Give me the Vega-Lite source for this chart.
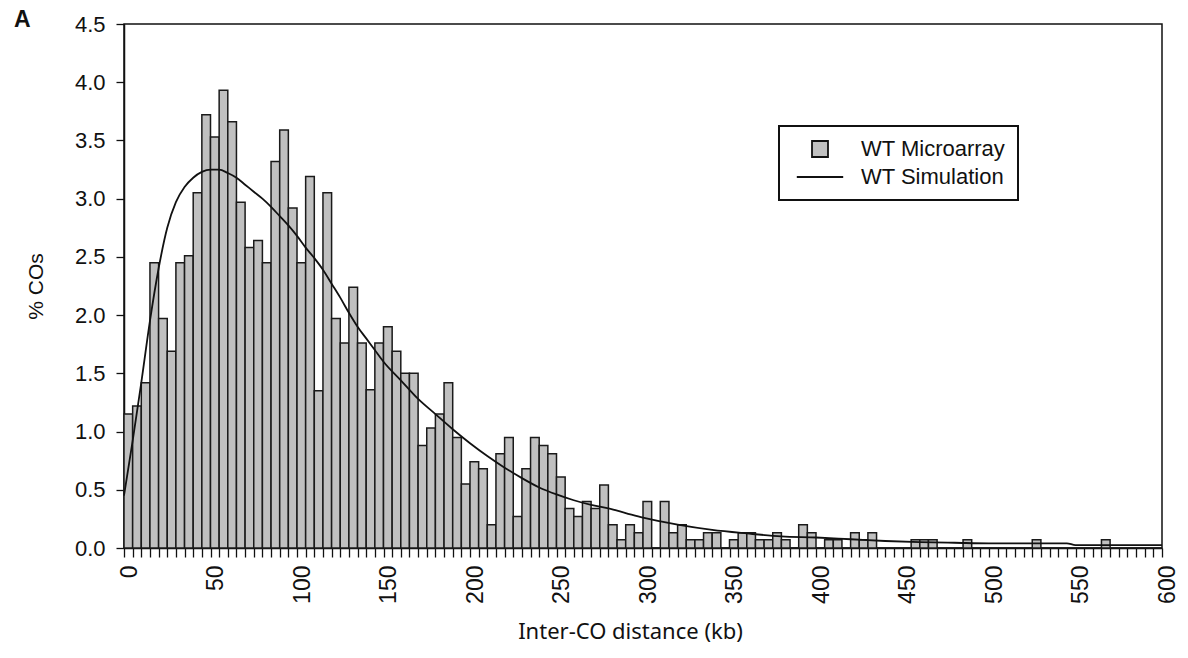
{
  "$schema": "https://vega.github.io/schema/vega-lite/v6.json",
  "width": 1038,
  "height": 524,
  "autosize": {"type": "none"},
  "padding": {"left": 124, "top": 24, "right": 26, "bottom": 110},
  "background": "white",
  "title": {"text": "A", "anchor": "start", "frame": "group", "orient": "top", "baseline": "alphabetic", "offset": 0, "dx": -110, "dy": 37, "font": "Liberation Sans", "fontSize": 23, "fontWeight": "bold", "color": "#111"},
  "config": {
    "view": {"stroke": "#111", "strokeWidth": 1.5},
    "axis": {"grid": false, "domainColor": "#111", "domainWidth": 1.5, "tickColor": "#111", "tickWidth": 1.3, "labelFont": "Liberation Sans", "labelColor": "#111", "titleFontWeight": "normal", "titleColor": "#111"},
    "legend": {"strokeWidth": 2, "symbolStrokeWidth": 1.8}
  },
  "datasets": {
    "bars": [
      {"start": 0, "end": 5, "pct": 1.15}, {"start": 5, "end": 10, "pct": 1.22}, {"start": 10, "end": 15, "pct": 1.42}, {"start": 15, "end": 20, "pct": 2.45},
      {"start": 20, "end": 25, "pct": 1.97}, {"start": 25, "end": 30, "pct": 1.69}, {"start": 30, "end": 35, "pct": 2.45}, {"start": 35, "end": 40, "pct": 2.51},
      {"start": 40, "end": 45, "pct": 3.05}, {"start": 45, "end": 50, "pct": 3.72}, {"start": 50, "end": 55, "pct": 3.53}, {"start": 55, "end": 60, "pct": 3.93},
      {"start": 60, "end": 65, "pct": 3.66}, {"start": 65, "end": 70, "pct": 2.97}, {"start": 70, "end": 75, "pct": 2.58}, {"start": 75, "end": 80, "pct": 2.64},
      {"start": 80, "end": 85, "pct": 2.45}, {"start": 85, "end": 90, "pct": 3.32}, {"start": 90, "end": 95, "pct": 3.59}, {"start": 95, "end": 100, "pct": 2.92},
      {"start": 100, "end": 105, "pct": 2.45}, {"start": 105, "end": 110, "pct": 3.19}, {"start": 110, "end": 115, "pct": 1.35}, {"start": 115, "end": 120, "pct": 3.05},
      {"start": 120, "end": 125, "pct": 1.97}, {"start": 125, "end": 130, "pct": 1.76}, {"start": 130, "end": 135, "pct": 2.24}, {"start": 135, "end": 140, "pct": 1.76},
      {"start": 140, "end": 145, "pct": 1.36}, {"start": 145, "end": 150, "pct": 1.76}, {"start": 150, "end": 155, "pct": 1.9}, {"start": 155, "end": 160, "pct": 1.69},
      {"start": 160, "end": 165, "pct": 1.5}, {"start": 165, "end": 170, "pct": 1.5}, {"start": 170, "end": 175, "pct": 0.88}, {"start": 175, "end": 180, "pct": 1.03},
      {"start": 180, "end": 185, "pct": 1.15}, {"start": 185, "end": 190, "pct": 1.42}, {"start": 190, "end": 195, "pct": 0.95}, {"start": 195, "end": 200, "pct": 0.55},
      {"start": 200, "end": 205, "pct": 0.74}, {"start": 205, "end": 210, "pct": 0.68}, {"start": 210, "end": 215, "pct": 0.2}, {"start": 215, "end": 220, "pct": 0.81},
      {"start": 220, "end": 225, "pct": 0.95}, {"start": 225, "end": 230, "pct": 0.27}, {"start": 230, "end": 235, "pct": 0.68}, {"start": 235, "end": 240, "pct": 0.95},
      {"start": 240, "end": 245, "pct": 0.88}, {"start": 245, "end": 250, "pct": 0.81}, {"start": 250, "end": 255, "pct": 0.61}, {"start": 255, "end": 260, "pct": 0.34},
      {"start": 260, "end": 265, "pct": 0.27}, {"start": 265, "end": 270, "pct": 0.4}, {"start": 270, "end": 275, "pct": 0.34}, {"start": 275, "end": 280, "pct": 0.54},
      {"start": 280, "end": 285, "pct": 0.2}, {"start": 285, "end": 290, "pct": 0.07}, {"start": 290, "end": 295, "pct": 0.2}, {"start": 295, "end": 300, "pct": 0.13},
      {"start": 300, "end": 305, "pct": 0.4}, {"start": 305, "end": 310, "pct": 0}, {"start": 310, "end": 315, "pct": 0.4}, {"start": 315, "end": 320, "pct": 0.13},
      {"start": 320, "end": 325, "pct": 0.2}, {"start": 325, "end": 330, "pct": 0.07}, {"start": 330, "end": 335, "pct": 0.07}, {"start": 335, "end": 340, "pct": 0.13},
      {"start": 340, "end": 345, "pct": 0.13}, {"start": 345, "end": 350, "pct": 0}, {"start": 350, "end": 355, "pct": 0.07}, {"start": 355, "end": 360, "pct": 0.13},
      {"start": 360, "end": 365, "pct": 0.13}, {"start": 365, "end": 370, "pct": 0.07}, {"start": 370, "end": 375, "pct": 0.07}, {"start": 375, "end": 380, "pct": 0.13},
      {"start": 380, "end": 385, "pct": 0.07}, {"start": 385, "end": 390, "pct": 0}, {"start": 390, "end": 395, "pct": 0.2}, {"start": 395, "end": 400, "pct": 0.13},
      {"start": 400, "end": 405, "pct": 0}, {"start": 405, "end": 410, "pct": 0.07}, {"start": 410, "end": 415, "pct": 0.07}, {"start": 415, "end": 420, "pct": 0},
      {"start": 420, "end": 425, "pct": 0.13}, {"start": 425, "end": 430, "pct": 0.07}, {"start": 430, "end": 435, "pct": 0.13}, {"start": 435, "end": 440, "pct": 0},
      {"start": 440, "end": 445, "pct": 0}, {"start": 445, "end": 450, "pct": 0}, {"start": 450, "end": 455, "pct": 0}, {"start": 455, "end": 460, "pct": 0.07},
      {"start": 460, "end": 465, "pct": 0.07}, {"start": 465, "end": 470, "pct": 0.07}, {"start": 470, "end": 475, "pct": 0}, {"start": 475, "end": 480, "pct": 0},
      {"start": 480, "end": 485, "pct": 0}, {"start": 485, "end": 490, "pct": 0.07}, {"start": 490, "end": 495, "pct": 0}, {"start": 495, "end": 500, "pct": 0},
      {"start": 500, "end": 505, "pct": 0}, {"start": 505, "end": 510, "pct": 0}, {"start": 510, "end": 515, "pct": 0}, {"start": 515, "end": 520, "pct": 0},
      {"start": 520, "end": 525, "pct": 0}, {"start": 525, "end": 530, "pct": 0.07}, {"start": 530, "end": 535, "pct": 0}, {"start": 535, "end": 540, "pct": 0},
      {"start": 540, "end": 545, "pct": 0}, {"start": 545, "end": 550, "pct": 0}, {"start": 550, "end": 555, "pct": 0}, {"start": 555, "end": 560, "pct": 0},
      {"start": 560, "end": 565, "pct": 0}, {"start": 565, "end": 570, "pct": 0.07}, {"start": 570, "end": 575, "pct": 0}, {"start": 575, "end": 580, "pct": 0},
      {"start": 580, "end": 585, "pct": 0}, {"start": 585, "end": 590, "pct": 0}, {"start": 590, "end": 595, "pct": 0}, {"start": 595, "end": 600, "pct": 0}
    ],
    "sim": [
      {"kb": 0, "pct": 0.45}, {"kb": 5, "pct": 0.92}, {"kb": 10, "pct": 1.42}, {"kb": 15, "pct": 1.95}, {"kb": 20, "pct": 2.4},
      {"kb": 25, "pct": 2.75}, {"kb": 30, "pct": 2.97}, {"kb": 35, "pct": 3.1}, {"kb": 40, "pct": 3.18}, {"kb": 45, "pct": 3.23},
      {"kb": 50, "pct": 3.25}, {"kb": 55, "pct": 3.25}, {"kb": 60, "pct": 3.22}, {"kb": 65, "pct": 3.18}, {"kb": 70, "pct": 3.12},
      {"kb": 75, "pct": 3.06}, {"kb": 80, "pct": 3.0}, {"kb": 85, "pct": 2.93}, {"kb": 90, "pct": 2.85}, {"kb": 95, "pct": 2.77},
      {"kb": 100, "pct": 2.68}, {"kb": 105, "pct": 2.58}, {"kb": 110, "pct": 2.49}, {"kb": 115, "pct": 2.39}, {"kb": 120, "pct": 2.27},
      {"kb": 125, "pct": 2.15}, {"kb": 130, "pct": 2.02}, {"kb": 135, "pct": 1.9}, {"kb": 140, "pct": 1.8}, {"kb": 145, "pct": 1.7},
      {"kb": 150, "pct": 1.6}, {"kb": 160, "pct": 1.44}, {"kb": 170, "pct": 1.28}, {"kb": 180, "pct": 1.15}, {"kb": 190, "pct": 1.02},
      {"kb": 200, "pct": 0.9}, {"kb": 210, "pct": 0.79}, {"kb": 220, "pct": 0.69}, {"kb": 230, "pct": 0.6}, {"kb": 240, "pct": 0.52},
      {"kb": 250, "pct": 0.46}, {"kb": 260, "pct": 0.41}, {"kb": 270, "pct": 0.37}, {"kb": 280, "pct": 0.34}, {"kb": 290, "pct": 0.3},
      {"kb": 300, "pct": 0.26}, {"kb": 320, "pct": 0.2}, {"kb": 340, "pct": 0.155}, {"kb": 360, "pct": 0.125}, {"kb": 380, "pct": 0.1},
      {"kb": 400, "pct": 0.09}, {"kb": 420, "pct": 0.075}, {"kb": 440, "pct": 0.06}, {"kb": 460, "pct": 0.05}, {"kb": 480, "pct": 0.045},
      {"kb": 500, "pct": 0.04}, {"kb": 520, "pct": 0.04}, {"kb": 545, "pct": 0.04}, {"kb": 550, "pct": 0.025}, {"kb": 600, "pct": 0.025}
    ],
    "none": []
  },
  "layer": [
    {
      "data": {"name": "bars"},
      "mark": {"type": "rect", "fill": "#c0c0c0", "stroke": "#1a1a1a", "strokeWidth": 1.5, "opacity": 1},
      "encoding": {
        "x": {"field": "start", "type": "quantitative", "scale": {"domain": [0, 600], "nice": false, "zero": false},
          "axis": {"title": "Inter-CO distance (kb)", "titleFont": "Noto Sans", "titleFontSize": 22, "titlePadding": 18, "titleX": 506, "tickCount": 120, "labelExpr": "datum.value % 50 === 0 ? datum.label : ''", "labelFontSize": 23, "labelAngle": 270, "labelAlign": "right", "labelBaseline": "middle", "labelOffset": 5, "labelPadding": 8, "tickSize": 9, "labelOverlap": false, "labelFlush": false}},
        "x2": {"field": "end"},
        "y": {"field": "pct", "type": "quantitative", "scale": {"domain": [0, 4.5], "nice": false},
          "axis": {"title": "% COs", "titleFont": "Liberation Sans", "titleFontSize": 21, "titlePadding": 28, "values": [0, 0.5, 1, 1.5, 2, 2.5, 3, 3.5, 4, 4.5], "format": ".1f", "labelFontSize": 22, "tickSize": 8, "labelPadding": 11}},
        "y2": {"datum": 0}
      }
    },
    {
      "data": {"name": "sim"},
      "mark": {"type": "line", "stroke": "#111", "strokeWidth": 1.8, "interpolate": "monotone"},
      "encoding": {
        "x": {"field": "kb", "type": "quantitative"},
        "y": {"field": "pct", "type": "quantitative"}
      }
    },
    {
      "data": {"name": "none"},
      "mark": {"type": "point", "filled": true, "color": "#c0c0c0", "opacity": 1},
      "encoding": {
        "shape": {"datum": "WT Microarray", "type": "nominal",
          "scale": {"domain": ["WT Microarray", "WT Simulation"], "range": ["square", "M-2.9,0L2.9,0"]},
          "legend": {"title": null, "orient": "none", "legendX": 655, "legendY": 102, "padding": 12, "strokeColor": "#111", "fillColor": "white",
            "labelFont": "Liberation Sans", "labelFontSize": 22, "labelColor": "#111", "symbolSize": 256, "symbolOffset": 18, "labelOffset": 30, "rowPadding": 5, "labelLimit": 300}},
        "stroke": {"datum": "WT Microarray", "type": "nominal",
          "scale": {"domain": ["WT Microarray", "WT Simulation"], "range": ["#111111", "#111111"]},
          "legend": {"title": null, "orient": "none", "legendX": 655, "legendY": 102, "padding": 12, "strokeColor": "#111", "fillColor": "white",
            "labelFont": "Liberation Sans", "labelFontSize": 22, "labelColor": "#111", "symbolSize": 256, "symbolOffset": 18, "labelOffset": 30, "rowPadding": 5, "labelLimit": 300}}
      }
    }
  ]
}
